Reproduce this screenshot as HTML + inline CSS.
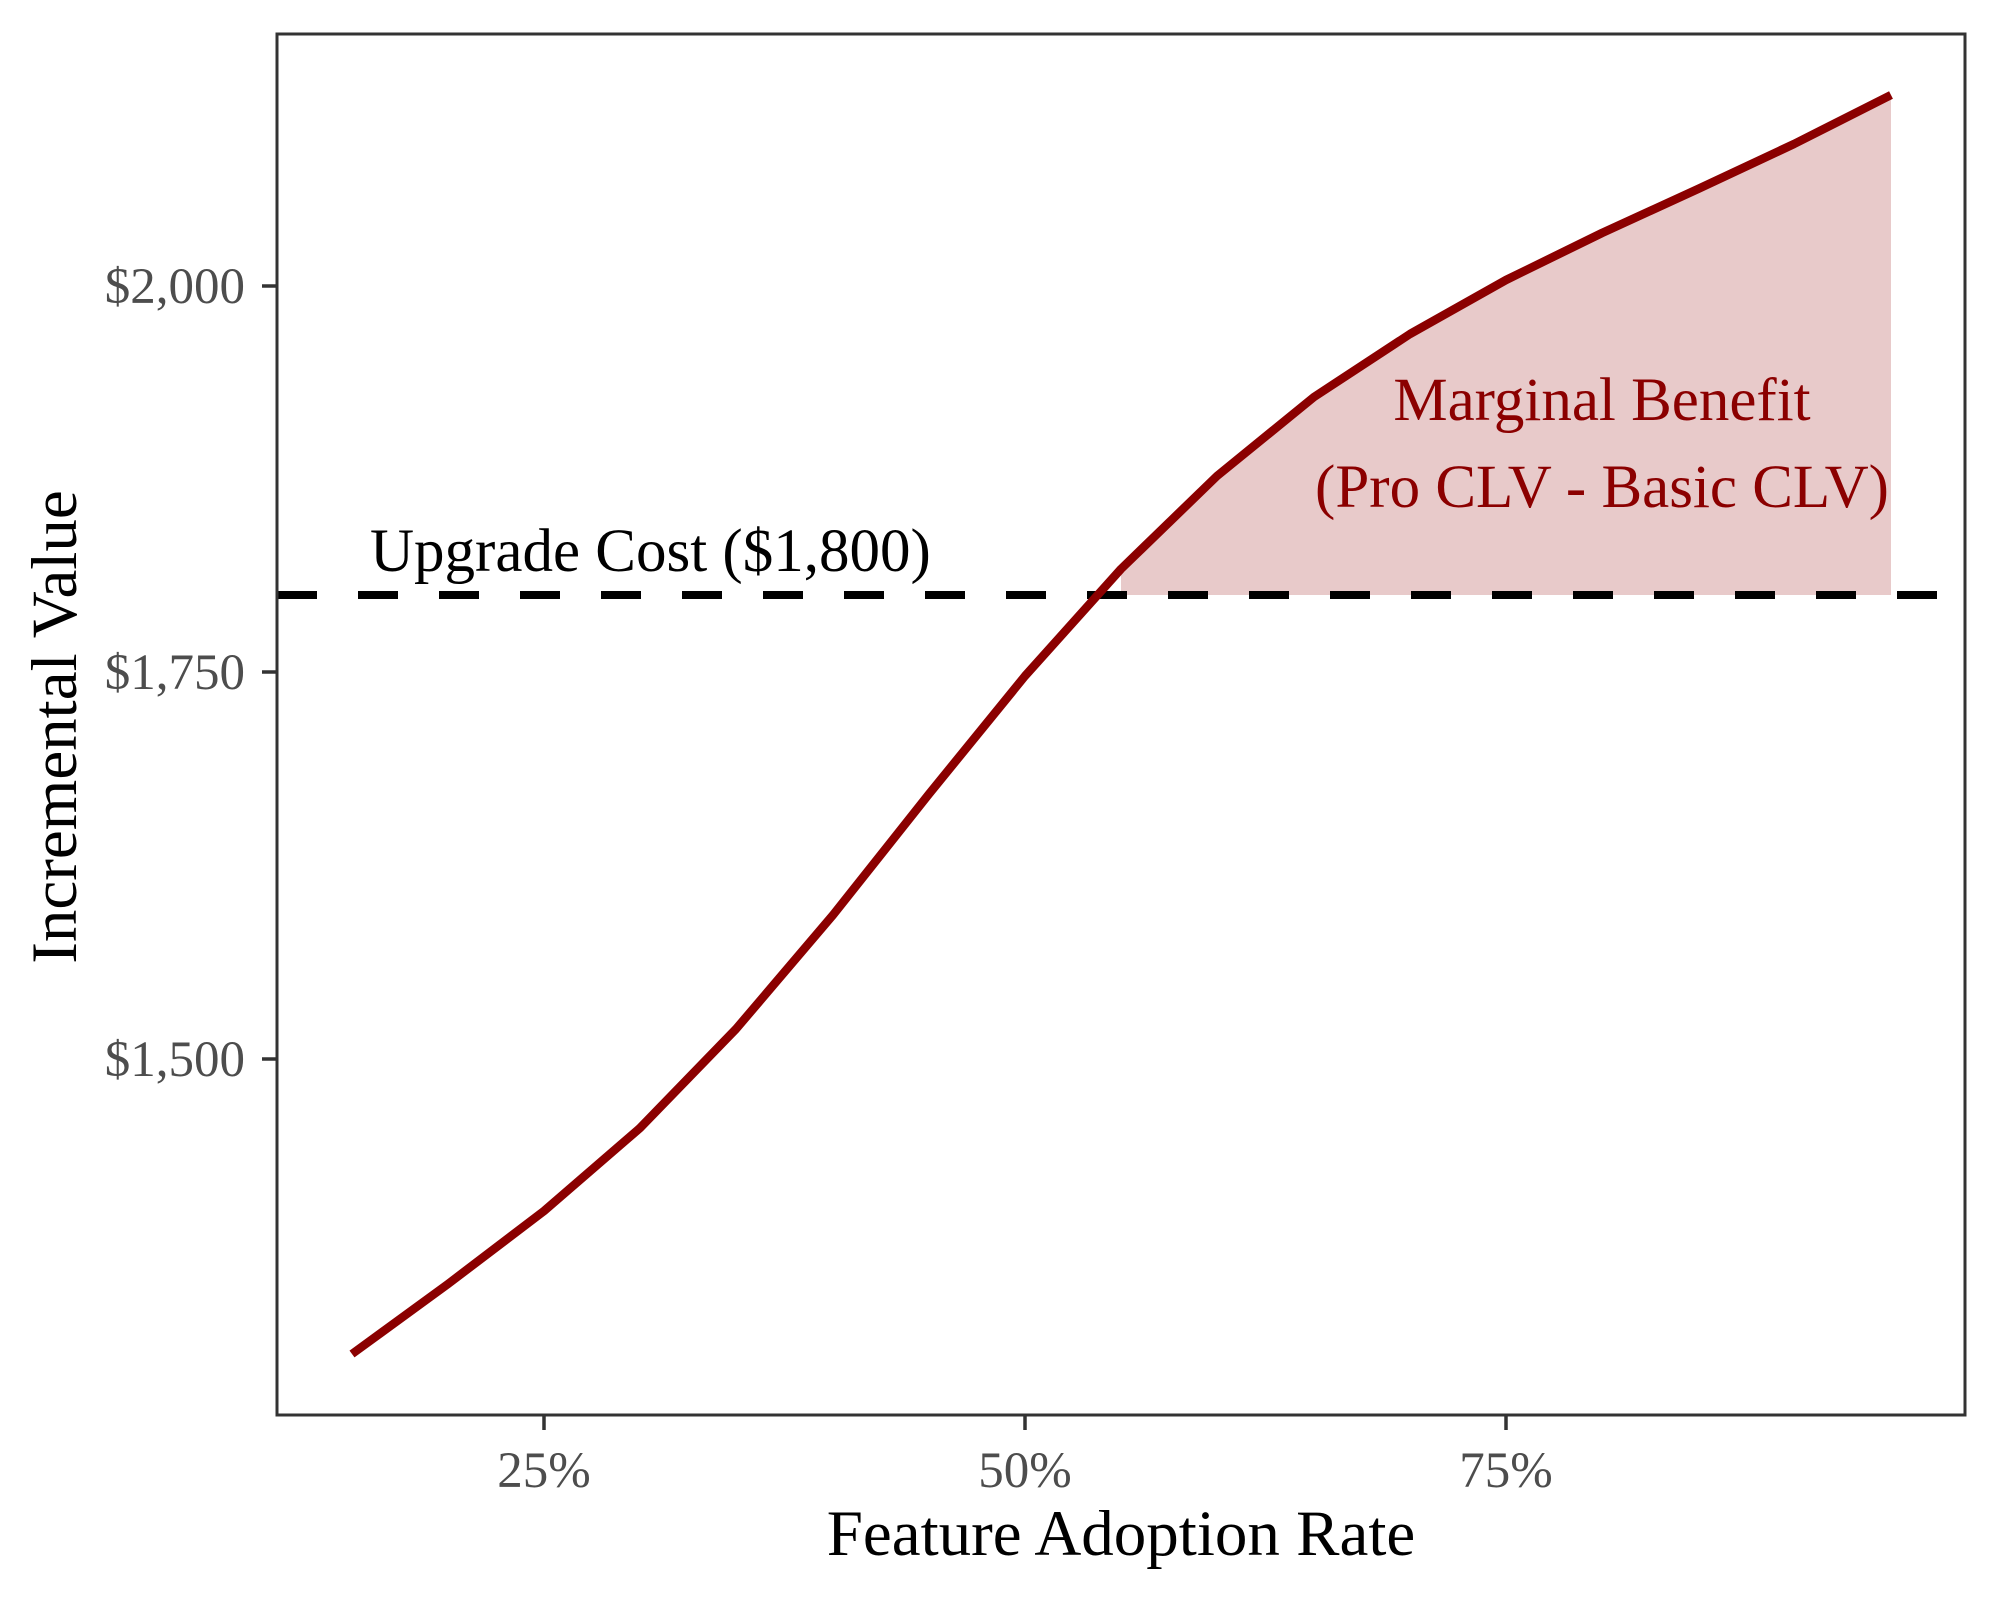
<!DOCTYPE html>
<html><head><meta charset="utf-8"><style>body{margin:0;background:#fff}svg{display:block}</style></head>
<body>
<svg width="1999" height="1599" viewBox="0 0 1999 1599" xmlns="http://www.w3.org/2000/svg" font-family="'Liberation Serif', serif">
<rect width="1999" height="1599" fill="#fff"/>
<polygon fill="#E8CACA" points="1121,569 1217,476 1314,397 1410,334 1506,280 1602,233 1698,189 1794,144 1891,95 1891,595 1121,595"/>
<line x1="277" y1="595" x2="1965" y2="595" stroke="#000" stroke-width="8" stroke-dasharray="40 41" stroke-dashoffset="0"/>
<polyline fill="none" stroke="#8B0000" stroke-width="8.5" stroke-linejoin="round" points="352,1354 448,1284 544,1211 640,1128 736,1029 833,915 929,794 1025,676 1121,569 1217,476 1314,397 1410,334 1506,280 1602,233 1698,189 1794,144 1891,95"/>
<rect x="277" y="34" width="1688" height="1381" fill="none" stroke="#333" stroke-width="3"/>
<g stroke="#333" stroke-width="3.5">
<line x1="262" y1="286" x2="277" y2="286"/><line x1="262" y1="672" x2="277" y2="672"/><line x1="262" y1="1059" x2="277" y2="1059"/>
<line x1="544" y1="1415" x2="544" y2="1430"/><line x1="1025" y1="1415" x2="1025" y2="1430"/><line x1="1506" y1="1415" x2="1506" y2="1430"/>
</g>
<g fill="#4d4d4d" font-size="51">
<text x="245" y="303" text-anchor="end">$2,000</text>
<text x="245" y="689" text-anchor="end">$1,750</text>
<text x="245" y="1076" text-anchor="end">$1,500</text>
<text x="544" y="1487" text-anchor="middle">25%</text>
<text x="1025" y="1487" text-anchor="middle">50%</text>
<text x="1506" y="1487" text-anchor="middle">75%</text>
</g>
<text x="1121" y="1555" font-size="65" text-anchor="middle" fill="#000">Feature Adoption Rate</text>
<text transform="translate(76,727) rotate(-90)" font-size="65" text-anchor="middle" fill="#000">Incremental Value</text>
<text x="370" y="571" font-size="61" fill="#000">Upgrade Cost ($1,800)</text>
<g fill="#8B0000" font-size="61" text-anchor="middle">
<text x="1602" y="420">Marginal Benefit</text>
<text x="1602" y="507">(Pro CLV - Basic CLV)</text>
</g>
</svg>
</body></html>
